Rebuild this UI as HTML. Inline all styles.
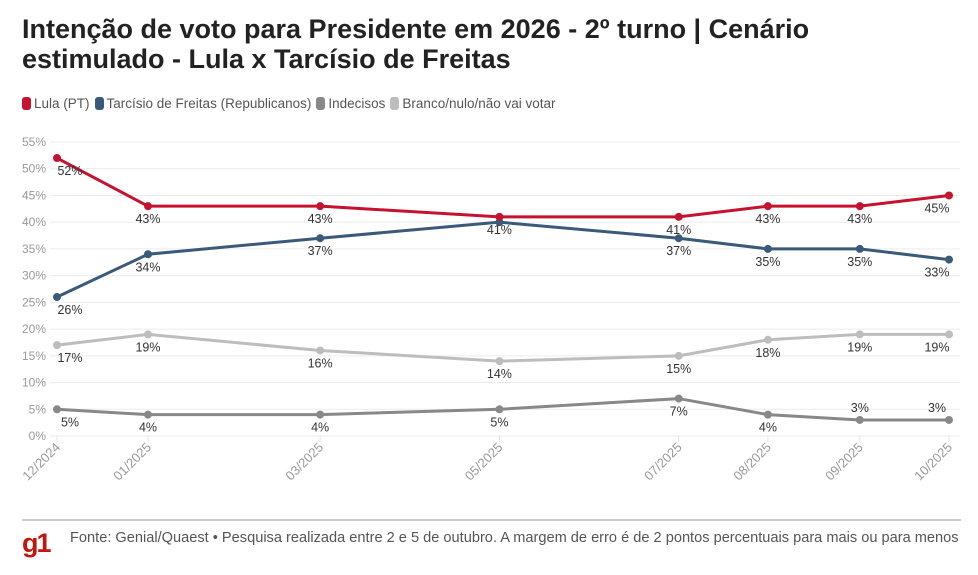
<!DOCTYPE html>
<html><head><meta charset="utf-8"><style>
body{margin:0;background:#fff;width:978px;height:575px;overflow:hidden;font-family:"Liberation Sans",sans-serif}
h1{position:absolute;left:22px;top:14px;margin:0;font-size:27px;line-height:30px;font-weight:bold;color:#222;width:880px}
.legend{position:absolute;left:22px;top:96px;font-size:13.5px;color:#555;display:flex;gap:5px}
.legend span{display:flex;align-items:center}
.legend i{display:inline-block;width:9px;height:13px;border-radius:3px;margin-right:3px}
.footer{position:absolute;left:22px;top:519px;width:939px;border-top:2px solid #ccc}
.g1{position:absolute;left:22px;top:528px;color:#c4170c;font-weight:bold;font-size:27px;letter-spacing:-2px}
.src{position:absolute;left:70px;top:530px;font-size:14.6px;color:#555;white-space:nowrap}
</style></head><body>
<h1>Intenção de voto para Presidente em 2026 - 2º turno | Cenário estimulado - Lula x Tarcísio de Freitas</h1>
<div class="legend">
<span><i style="background:#c4122f"></i>Lula (PT)</span>
<span><i style="background:#3a5a7a"></i>Tarcísio de Freitas (Republicanos)</span>
<span><i style="background:#888"></i>Indecisos</span>
<span><i style="background:#bdbdbd"></i>Branco/nulo/não vai votar</span>
</div>
<svg id="chart" width="978" height="575" style="position:absolute;left:0;top:0"></svg>
<div class="footer"></div>
<div class="g1">g1</div>
<div class="src">Fonte: Genial/Quaest • Pesquisa realizada entre 2 e 5 de outubro. A margem de erro é de 2 pontos percentuais para mais ou para menos</div>
<script>
const categories=["12/2024","01/2025","03/2025","05/2025","07/2025","08/2025","09/2025","10/2025"];
const monthIndex=[0,1.02,2.95,4.96,6.97,7.97,9,10];
const lula=[52,43,43,41,41,43,43,45];
const tarcisio=[26,34,37,40,37,35,35,33];
const indecisos=[5,4,4,5,7,4,3,3];
const branco=[17,19,16,14,15,18,19,19];
const yTicks=[0,5,10,15,20,25,30,35,40,45,50,55];
const NS="http://www.w3.org/2000/svg";
const svg=document.getElementById('chart');
const x=m=>57+m*89.2;
const y=v=>436-v*(294/55);
function el(t,a,p){const e=document.createElementNS(NS,t);for(const k in a)e.setAttribute(k,a[k]);(p||svg).appendChild(e);return e;}
yTicks.forEach(t=>{
  const g=el('line',{x1:50,x2:960,y1:y(t),y2:y(t),stroke:'#ececec'});
  
  
  const l=el('text',{x:46,y:y(t)+4,'text-anchor':'end','font-size':12,fill:'#999'});
  l.textContent=t+'%';
  
  
});
categories.forEach((c,i)=>{
  const px=x(monthIndex[i]);
  const tl=el('line',{x1:px,x2:px,y1:436,y2:442,stroke:'#e5e5e5'});
  
  
  const t=el('text',{x:px+4,y:448,'text-anchor':'end','font-size':13,fill:'#999',transform:`rotate(-45 ${px+4} 448)`});
  t.textContent=c;
  
  
});
const labels=[];
const series=[[branco,'#bdbdbd','branco'],[indecisos,'#888','indecisos'],[tarcisio,'#3a5a7a','tarcisio'],[lula,'#c4122f','lula']];
series.forEach(([d,col,n])=>{
  const pts=d.map((v,i)=>x(monthIndex[i])+','+y(v)).join(' ');
  const pl=el('polyline',{points:pts,fill:'none',stroke:col,'stroke-width':3});
  
  
  d.forEach((v,i)=>{
    const cx=x(monthIndex[i]),cy=y(v);
    const c=el('circle',{cx:cx,cy:cy,r:4,fill:col});
    
    
    let tx=cx;
    if(i===0)tx=cx+13;
    if(i===d.length-1)tx=cx-12;
    const above=(n==='indecisos'&&v<=3);
    labels.push({n,i,v,tx,ty:above?cy-8:cy+17});
  });
});
// drop labels that collide (later series wins)
const keep=[];
for(let k=labels.length-1;k>=0;k--){
  const L=labels[k];
  if(keep.some(o=>o.i===L.i&&Math.abs(o.ty-L.ty)<12))continue;
  keep.push(L);
}
keep.forEach(L=>{
  const t=el('text',{x:L.tx,y:L.ty,'text-anchor':'middle','font-size':12.5,fill:'#333'});
  t.textContent=L.v+'%';
  
  
});
</script>
</body></html>
